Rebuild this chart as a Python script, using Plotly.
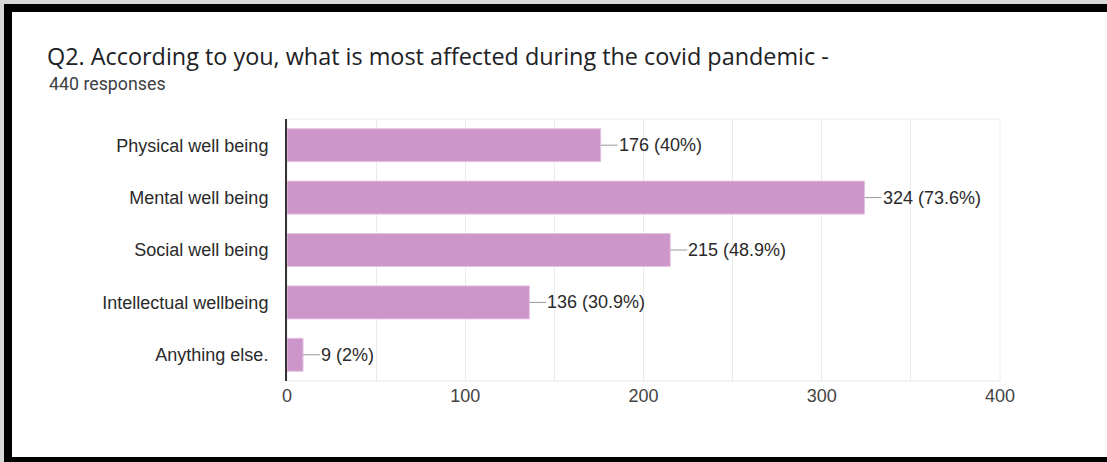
import plotly.graph_objects as go

# Survey responses (440 total)
categories = ["Physical well being", "Mental well being", "Social well being",
              "Intellectual wellbeing", "Anything else."]
counts = [176, 324, 215, 136, 9]
total_responses = 440
x_ticks = [0, 100, 200, 300, 400]

title_text = "Q2. According to you, what is most affected during the covid pandemic -"
subtitle_text = f"{total_responses} responses"

W, H = 1107, 462
L, R, T, B = 287, 107, 119, 81
plot_w = W - L - R
plot_h = H - T - B


def px_x(px):
    return (px - L) / plot_w


def px_y(py):
    return (H - B - py) / plot_h


def pct(v):
    p = round(100 * v / total_responses, 1)
    return f"{p:g}%"


bar_color = "#cd96ca"
label_font = "Liberation Sans, Arial"

fig = go.Figure(go.Bar(
    x=counts, y=categories, orientation="h",
    marker=dict(color=bar_color, line=dict(color="#e6c4e4", width=1)),
    width=0.63, hoverinfo="skip",
))

annotations = []
for c, v in zip(categories, counts):
    annotations.append(dict(
        x=v, y=c, xref="x", yref="y", text=f"{v} ({pct(v)})",
        showarrow=True, arrowhead=0, arrowwidth=1, arrowcolor="#9a9a9a",
        ax=17, ay=0, axref="pixel", ayref="pixel", standoff=0,
        xanchor="left", yanchor="middle", borderpad=0,
        font=dict(family=label_font, size=18, color="#2a2a2a"),
    ))

annotations.append(dict(
    x=px_x(47), y=px_y(84), xref="paper", yref="paper", text=subtitle_text,
    showarrow=False, xanchor="left", yanchor="middle",
    font=dict(family="Roboto, Arial", size=17.8, color="#3c4043"),
))

shapes = [
    # light plot frame
    dict(type="rect", xref="paper", yref="paper", x0=0, x1=1, y0=0, y1=1,
         line=dict(color="#ebebeb", width=1), layer="below"),
    # outer black frame bands
    dict(type="rect", xref="paper", yref="paper", x0=px_x(0), x1=px_x(W),
         y0=px_y(0), y1=px_y(4), fillcolor="#d8d8d8", line_width=0),
    dict(type="rect", xref="paper", yref="paper", x0=px_x(0), x1=px_x(4),
         y0=px_y(0), y1=px_y(H), fillcolor="#d8d8d8", line_width=0),
    dict(type="rect", xref="paper", yref="paper", x0=px_x(4), x1=px_x(W),
         y0=px_y(4), y1=px_y(12), fillcolor="black", line_width=0),
    dict(type="rect", xref="paper", yref="paper", x0=px_x(4), x1=px_x(12),
         y0=px_y(4), y1=px_y(H), fillcolor="black", line_width=0),
    dict(type="rect", xref="paper", yref="paper", x0=px_x(4), x1=px_x(W),
         y0=px_y(457), y1=px_y(H), fillcolor="black", line_width=0),
]

fig.update_layout(
    width=W, height=H,
    margin=dict(l=L, r=R, t=T, b=B),
    paper_bgcolor="white", plot_bgcolor="white",
    showlegend=False,
    title=dict(text=title_text, x=47 / W, xanchor="left",
               y=(H - 57) / H, yanchor="middle", yref="container",
               font=dict(family="Open Sans, Arial", size=23.4, color="#202124")),
    annotations=annotations,
    shapes=shapes,
    bargap=0.37,
)

fig.update_xaxes(
    range=[0, 400], tickvals=x_ticks, showgrid=True, gridcolor="#ebebeb",
    gridwidth=1, zeroline=False, showline=False,
    minor=dict(dtick=50, showgrid=True, gridcolor="#ebebeb", gridwidth=1),
    ticks="", ticklabelstandoff=2,
    tickfont=dict(family=label_font, size=18, color="#444444"),
)
fig.update_yaxes(
    autorange="reversed", showgrid=False, zeroline=False,
    showline=True, linecolor="#333333", linewidth=2,
    ticks="", ticklabelstandoff=13,
    tickfont=dict(family=label_font, size=18, color="#2a2a2a"),
)

fig.write_html("out.html")
